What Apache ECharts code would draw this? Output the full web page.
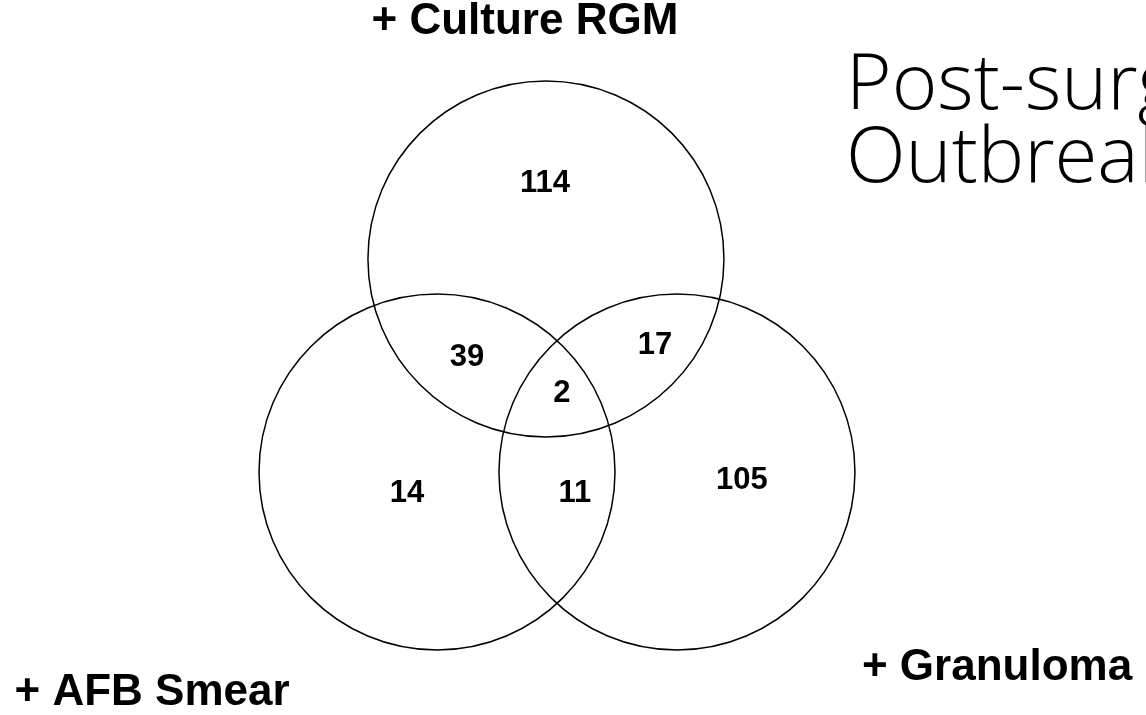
<!DOCTYPE html>
<html>
<head>
<meta charset="utf-8">
<script src="https://cdn.jsdelivr.net/npm/echarts@6/dist/echarts.min.js"></script>
<style>
html,body{margin:0;padding:0;background:#fff;}
#chart{width:1146px;height:715px;}
</style>
</head>
<body>
<div id="chart"></div>
<script>
// Sets of the Venn diagram (units: 1 = circle radius)
const setNames = ['+ Culture RGM', '+ AFB Smear', '+ Granuloma'];
const setCx = [-0.062, -0.674, 0.674];
const setCy = [1.197, 0, 0];
const setR = [1, 1, 1];
const setLabelX = [-0.180, -2.275, 2.472];
const setLabelY = [2.528, -1.242, -1.101];

// Region counts
const regionValues = [114, 39, 17, 2, 14, 11, 105];
const regionX = [-0.067, -0.506, 0.551, 0.028, -0.843, 0.101, 1.039];
const regionY = [1.624, 0.646, 0.713, 0.444, -0.118, -0.118, -0.045];

const titleText = 'Post-surgical\nOutbreak';

const X_MIN = -3.129, X_MAX = 3.309;
const Y_MIN = -1.365, Y_MAX = 2.652;

const chart = echarts.init(document.getElementById('chart'), null, {renderer: 'canvas'});
const plainLabel = {
  show: true, position: 'inside', formatter: '{b}', color: '#000000', opacity: 1,
  textBorderWidth: 0, textShadowBlur: 0, fontFamily: 'Liberation Sans', fontWeight: 'bold'
};
const option = {
  animation: false,
  backgroundColor: '#ffffff',
  title: {
    text: titleText,
    left: 846,
    top: 50,
    padding: 0,
    textStyle: {fontFamily: 'Open Sans', fontWeight: 300, fontSize: 78, lineHeight: 73, color: '#000'}
  },
  grid: {left: 0, right: 0, top: 0, bottom: 0},
  xAxis: {type: 'value', min: X_MIN, max: X_MAX, show: false},
  yAxis: {type: 'value', min: Y_MIN, max: Y_MAX, show: false},
  series: [
    {
      type: 'custom',
      coordinateSystem: 'cartesian2d',
      data: setCx.map((x, i) => [x, setCy[i], setR[i]]),
      renderItem: function (params, api) {
        const c = api.coord([api.value(0), api.value(1)]);
        const s = api.size([api.value(2), api.value(2)]);
        return {
          type: 'ellipse',
          shape: {cx: c[0], cy: c[1], rx: s[0], ry: s[1]},
          style: {fill: 'none', stroke: '#000', lineWidth: 1.5}
        };
      },
      silent: true
    },
    {
      type: 'scatter',
      symbolSize: 0,
      itemStyle: {color: 'rgba(0,0,0,0)'},
      data: regionValues.map((v, i) => ({name: String(v), value: [regionX[i], regionY[i]]})),
      label: Object.assign({}, plainLabel, {fontSize: 31}),
      silent: true
    },
    {
      type: 'scatter',
      symbolSize: 0,
      itemStyle: {color: 'rgba(0,0,0,0)'},
      data: setNames.map((n, i) => ({name: n, value: [setLabelX[i], setLabelY[i]]})),
      label: Object.assign({}, plainLabel, {fontSize: 44}),
      silent: true
    }
  ]
};
chart.setOption(option);
</script>
</body>
</html>
